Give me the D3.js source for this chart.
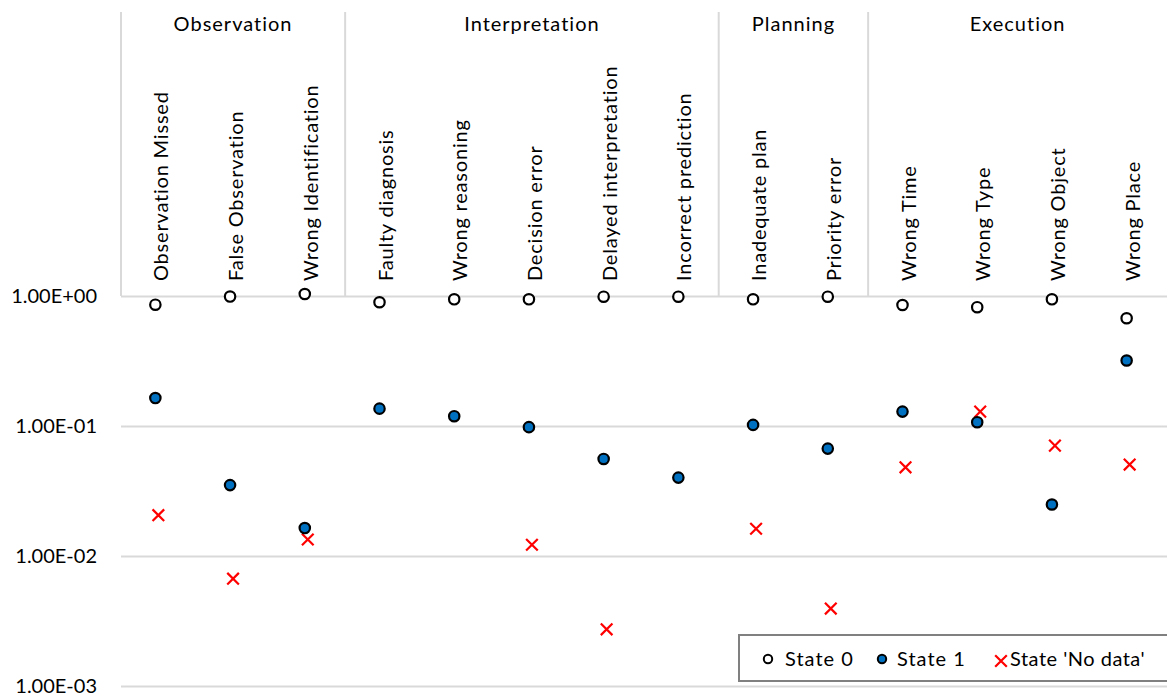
<!DOCTYPE html>
<html>
<head>
<meta charset="utf-8">
<script src="https://cdn.jsdelivr.net/npm/d3@7"></script>
<style>
  body { margin: 0; background: #fff; }
  text { font-family: Lato, "Open Sans", sans-serif; fill: #000; }
</style>
</head>
<body>
<svg></svg>
<script>
let width = 1167;
let height = 696;
let svg = d3.select("svg")
            .attr("width", width)
            .attr("height", height);

// categories and their groups
let categories = ["Observation Missed", "False Observation", "Wrong Identification",
  "Faulty diagnosis", "Wrong reasoning", "Decision error", "Delayed interpretation",
  "Incorrect prediction", "Inadequate plan", "Priority error",
  "Wrong Time", "Wrong Type", "Wrong Object", "Wrong Place"];
let groups = ["Observation", "Interpretation", "Planning", "Execution"];
let groupSizes = [3, 5, 2, 4];

// series values (null = no point)
let state0 = [0.857, 0.99, 1.036, 0.895, 0.943, 0.943, 0.988, 0.988, 0.943, 0.988, 0.853, 0.82, 0.943, 0.674];
let state1 = [0.164, 0.0351, 0.0164, 0.136, 0.119, 0.098, 0.0558, 0.0401, 0.102, 0.067, 0.129, 0.107, 0.0249, 0.319];
let stateNoData = [0.0206, 0.00669, 0.0134, null, null, 0.0122, 0.00273, null, 0.0162, 0.00394, 0.0481, 0.129, 0.0706, 0.0505];

let yTicks = [1e-3, 1e-2, 1e-1, 1];

let left = 121;
let right = 1167;
let topLine = 12;

let xScale = d3.scaleBand()
               .domain(categories)
               .range([left, right]);

let yScale = d3.scaleLog()
               .domain([1e-3, 1])
               .range([686, 296]);

let cx = (d) => xScale(d) + xScale.bandwidth() / 2;

function fmt(v) {
  let e = Math.round(Math.log10(v));
  let sign = e < 0 ? "-" : "+";
  return "1.00E" + sign + String(Math.abs(e)).padStart(2, "0");
}

// gridlines + tick labels
let yAxis = svg.append("g")
   .attr("transform", "translate(" + left + ",0)")
   .call(d3.axisLeft(yScale)
           .tickValues(yTicks)
           .tickFormat(fmt)
           .tickSize(-(right - left))
           .tickPadding(24));
yAxis.select(".domain").remove();
yAxis.selectAll(".tick line")
     .attr("stroke", "#d9d9d9")
     .attr("stroke-width", 2);
yAxis.selectAll(".tick text")
     .style("font-family", "Lato, sans-serif")
     .style("font-size", "20px")
     .attr("fill", "#000");

// group separators
let bounds = [0];
groupSizes.forEach((s, i) => bounds.push(bounds[i] + s));
let sepIdx = bounds.slice(0, -1);
svg.selectAll(".sep")
   .data(sepIdx)
   .enter()
   .append("line")
   .attr("class", "sep")
   .attr("x1", (d) => left + d * xScale.bandwidth())
   .attr("x2", (d) => left + d * xScale.bandwidth())
   .attr("y1", topLine)
   .attr("y2", yScale(1))
   .attr("stroke", "#d9d9d9")
   .attr("stroke-width", 2);

// group labels
svg.selectAll(".grp")
   .data(groups)
   .enter()
   .append("text")
   .attr("class", "grp")
   .attr("x", (d, i) => left + (bounds[i] + bounds[i + 1]) / 2 * xScale.bandwidth())
   .attr("y", 31)
   .attr("text-anchor", "middle")
   .style("font-size", "20px")
   .style("letter-spacing", "1px")
   .text((d) => d);

// category labels
svg.selectAll(".cat")
   .data(categories)
   .enter()
   .append("text")
   .attr("class", "cat")
   .attr("transform", (d) => "translate(" + (cx(d) + 10) + ",281) rotate(-90)")
   .attr("text-anchor", "start")
   .style("font-size", "20px")
   .style("letter-spacing", "0.8px")
   .text((d) => d);

// X markers
let cross = d3.symbol().type(d3.symbolX).size(90);
svg.selectAll(".nd")
   .data(categories.map((c, i) => ({ c: c, v: stateNoData[i] })).filter((d) => d.v !== null))
   .enter()
   .append("path")
   .attr("class", "nd")
   .attr("d", cross)
   .attr("transform", (d) => "translate(" + cx(d.c) + "," + yScale(d.v) + ")")
   .attr("fill", "none")
   .attr("stroke", "#ff0000")
   .attr("stroke-width", 2.2);

// State 1
svg.selectAll(".s1")
   .data(categories.map((c, i) => ({ c: c, v: state1[i] })))
   .enter()
   .append("circle")
   .attr("class", "s1")
   .attr("cx", (d) => cx(d.c) - 3)
   .attr("cy", (d) => yScale(d.v))
   .attr("r", 5.2)
   .attr("fill", "#0070c0")
   .attr("stroke", "#000")
   .attr("stroke-width", 2.2);

// State 0
svg.selectAll(".s0")
   .data(categories.map((c, i) => ({ c: c, v: state0[i] })))
   .enter()
   .append("circle")
   .attr("class", "s0")
   .attr("cx", (d) => cx(d.c) - 3)
   .attr("cy", (d) => yScale(d.v))
   .attr("r", 5.2)
   .attr("fill", "#fff")
   .attr("stroke", "#000")
   .attr("stroke-width", 2.2);

// legend
let legend = svg.append("g");
legend.append("rect")
      .attr("x", 739)
      .attr("y", 635)
      .attr("width", 440)
      .attr("height", 46)
      .attr("fill", "#fff")
      .attr("stroke", "#808080")
      .attr("stroke-width", 2);

legend.append("circle").attr("cx", 768).attr("cy", 659).attr("r", 4.2)
      .attr("fill", "#fff").attr("stroke", "#000").attr("stroke-width", 2);
legend.append("text").attr("x", 785).attr("y", 666).style("font-size", "20px")
      .style("letter-spacing", "1px").text("State 0");

legend.append("circle").attr("cx", 882).attr("cy", 659).attr("r", 4.2)
      .attr("fill", "#0070c0").attr("stroke", "#000").attr("stroke-width", 2);
legend.append("text").attr("x", 897).attr("y", 666).style("font-size", "20px")
      .style("letter-spacing", "1px").text("State 1");

legend.append("path").attr("d", cross)
      .attr("transform", "translate(1001,661)")
      .attr("fill", "none").attr("stroke", "#ff0000").attr("stroke-width", 2.2);
legend.append("text").attr("x", 1010).attr("y", 666).style("font-size", "20px")
      .style("letter-spacing", "0.5px").text("State 'No data'");
</script>
</body>
</html>
